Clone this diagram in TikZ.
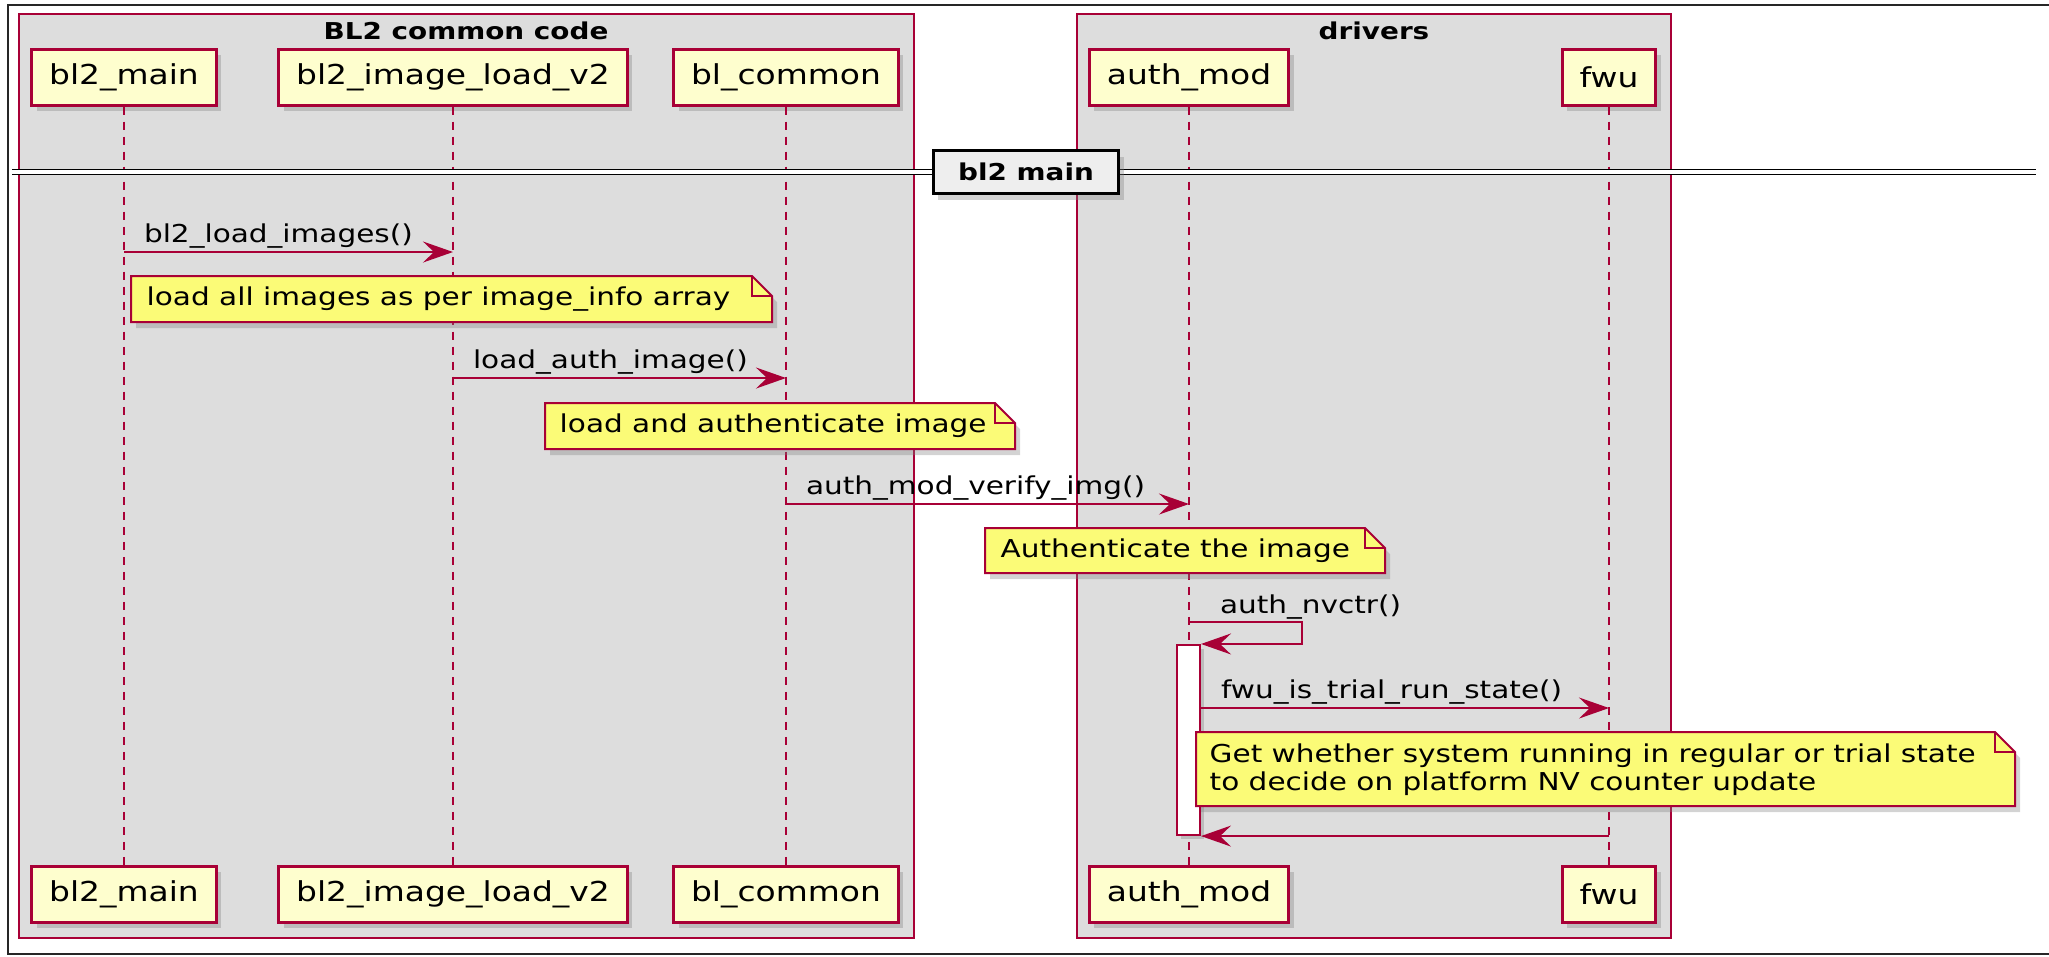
\documentclass[tikz,border=0pt]{standalone}
\usepackage{fontspec}
\setmainfont{DejaVu Sans}[FakeStretch=1.2]
\usetikzlibrary{arrows.meta, positioning, shadows}

\definecolor{umlred}{HTML}{A80036}
\definecolor{partfill}{HTML}{FEFECE}
\definecolor{notefill}{HTML}{FBFB77}
\definecolor{groupfill}{HTML}{DDDDDD}
\definecolor{divfill}{HTML}{EEEEEE}

\tikzset{
  frame/.style={draw=black!85, line width=0.2mm},
  group/.style={draw=umlred, fill=groupfill, line width=0.15mm},
  grouptitle/.style={font=\bfseries\fontsize{6.6}{8}\selectfont, inner sep=0pt},
  participant/.style={draw=umlred, fill=partfill, line width=0.3mm,
    minimum height=5.6mm, inner xsep=1.75mm, inner ysep=0pt,
    font=\fontsize{7.8}{9}\selectfont,
    drop shadow={shadow xshift=0.5mm, shadow yshift=-0.6mm, opacity=0.35}},
  lifeline/.style={draw=umlred, line width=0.15mm, dash pattern=on 0.8mm off 0.7mm},
  divider/.style={draw=black, line width=0.15mm, double=white, double distance=0.35mm},
  divlabel/.style={draw=black, fill=divfill, line width=0.3mm,
    minimum height=4.3mm, inner xsep=2.5mm, inner ysep=0pt,
    font=\bfseries\fontsize{6.6}{8}\selectfont,
    drop shadow={shadow xshift=0.5mm, shadow yshift=-0.6mm, opacity=0.35}},
  msg/.style={draw=umlred, line width=0.2mm, -{Stealth[length=3mm, width=2.1mm, inset=1.1mm]}},
  msglabel/.style={anchor=base west, inner sep=0pt, font=\fontsize{7}{8}\selectfont},
  note/.style={draw=umlred, fill=notefill, line width=0.2mm,
    drop shadow={shadow xshift=0.5mm, shadow yshift=-0.6mm, opacity=0.35}},
  notefold/.style={draw=umlred, line width=0.2mm},
  notetext/.style={anchor=west, align=left, inner sep=0pt, font=\fontsize{7}{8}\selectfont},
  activation/.style={draw=umlred, fill=white, line width=0.2mm, inner sep=0pt,
    minimum width=2.3mm, minimum height=19mm,
    drop shadow={shadow xshift=0.4mm, shadow yshift=-0.4mm, opacity=0.35}},
}

\begin{document}
\begin{tikzpicture}[x=0.01cm, y=-0.01cm]
  \useasboundingbox (0,0) rectangle (2049,956);
  \draw[frame] (8,5) rectangle (2060,954);

  % the two groups
  \filldraw[group] (19,14) rectangle (914,938);
  \filldraw[group] (1077,14) rectangle (1671,938);
  \node[grouptitle] (gcommon) at (466,31) {BL2 common code};
  \node[grouptitle] (gdrivers) at (1374,31) {drivers};

  % participants, head and foot
  \foreach \n/\x/\lbl in {bl2main/124/bl2\_main, imgload/453/bl2\_image\_load\_v2,
      blcommon/786/bl\_common, authmod/1189/auth\_mod, fwu/1609/fwu} {
    \node[participant] (\n) at (\x,77) {\lbl};
    \node[participant] (\n-b) at (\x,894) {\lbl};
  }
  \foreach \n in {bl2main, imgload, blcommon, authmod, fwu}
    \draw[lifeline] (\n) -- (\n-b);

  % section divider
  \draw[divider] (12,172) -- (2036,172);
  \node[divlabel] (sect) at (1026,172) {bl2 main};

  % messages and notes
  \coordinate (y1) at (0,252);
  \draw[msg] (bl2main |- y1) -- (imgload |- y1)
    node[msglabel, pos=0, xshift=1.9mm, yshift=1mm] {bl2\_load\_images()};

  \filldraw[note] (131,276) -- (752,276) -- (772,296) -- (772,322) -- (131,322) -- cycle;
  \draw[notefold] (752,276) |- (772,296);
  \node[notetext] (note1) at (146,299) {load all images as per image\_info array};

  \coordinate (y2) at (0,378);
  \draw[msg] (imgload |- y2) -- (blcommon |- y2)
    node[msglabel, pos=0, xshift=1.9mm, yshift=1mm] {load\_auth\_image()};

  \filldraw[note] (545,403) -- (995,403) -- (1015,423) -- (1015,449) -- (545,449) -- cycle;
  \draw[notefold] (995,403) |- (1015,423);
  \node[notetext] (note2) at (559,426) {load and authenticate image};

  \coordinate (y3) at (0,504);
  \draw[msg] (blcommon |- y3) -- (authmod |- y3)
    node[msglabel, pos=0, xshift=1.9mm, yshift=1mm] {auth\_mod\_verify\_img()};

  \filldraw[note] (985,528) -- (1365,528) -- (1385,548) -- (1385,573) -- (985,573) -- cycle;
  \draw[notefold] (1365,528) |- (1385,548);
  \node[notetext] (note3) at (1000,551) {Authenticate the image};

  \node[activation] (act) at (1188.5,740) {};

  \coordinate (y4) at (0,622);
  \draw[msg] (authmod |- y4) -- node[msglabel, pos=0, xshift=3mm, yshift=0.9mm] {auth\_nvctr()}
    ++(113,0) |- (act.north east);

  \coordinate (y5) at (0,708);
  \draw[msg] (act.east |- y5) -- (fwu |- y5)
    node[msglabel, pos=0, xshift=1.9mm, yshift=1mm] {fwu\_is\_trial\_run\_state()};

  \filldraw[note] (1196,732) -- (1995,732) -- (2015,752) -- (2015,806) -- (1196,806) -- cycle;
  \draw[notefold] (1995,732) |- (2015,752);
  \node[notetext] (note4) at (1209,770) {Get whether system running in regular or trial state\\to decide on platform NV counter update};

  \draw[msg] (fwu |- act.south) -- (act.south east);
\end{tikzpicture}
\end{document}
